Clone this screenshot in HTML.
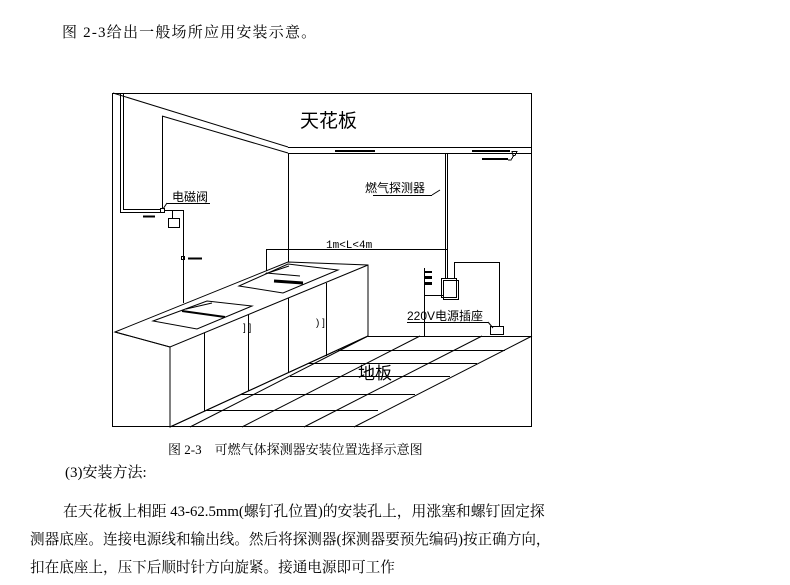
<!DOCTYPE html>
<html><head><meta charset="utf-8"><style>
html,body{margin:0;padding:0;background:#fff;}
body{width:790px;height:585px;position:relative;overflow:hidden;font-family:"Liberation Serif","Noto Serif CJK SC","Noto Sans CJK SC",serif;color:#000;}
.t{position:absolute;white-space:nowrap;}
</style></head><body>
<div class="t" style="left:62px;top:21px;font-size:15px;letter-spacing:1.2px;">图 2-3给出一般场所应用安装示意。</div>
<svg width="790" height="585" style="position:absolute;left:0;top:0" xmlns="http://www.w3.org/2000/svg">
<g stroke="#000" stroke-width="1" fill="none" shape-rendering="crispEdges">
<rect x="112.5" y="93.5" width="419" height="333"/>
<line x1="113" y1="93" x2="288" y2="147" shape-rendering="auto"/>
<line x1="162" y1="116" x2="288" y2="153" shape-rendering="auto"/>
<line x1="288" y1="147.5" x2="532" y2="147.5"/>
<line x1="288" y1="153.5" x2="532" y2="153.5"/>
<line x1="288.5" y1="153" x2="288.5" y2="262"/>
<line x1="162.5" y1="116" x2="162.5" y2="208"/>
<line x1="120.5" y1="94" x2="120.5" y2="212"/>
<line x1="123.5" y1="94" x2="123.5" y2="210"/>
<line x1="120" y1="212.5" x2="162" y2="212.5"/>
<line x1="123" y1="209.5" x2="160" y2="209.5"/>
<rect x="160.5" y="208.5" width="4" height="4"/>
<line x1="143" y1="216.5" x2="155" y2="216.5" stroke-width="2"/>
<line x1="165" y1="210.5" x2="183" y2="210.5"/>
<line x1="172.5" y1="211" x2="172.5" y2="218"/>
<rect x="168.5" y="218.5" width="11" height="9"/>
<line x1="183.5" y1="210" x2="183.5" y2="303"/>
<rect x="181.5" y="256.5" width="3" height="3"/>
<line x1="188" y1="258.5" x2="202" y2="258.5" stroke-width="2"/>
<line x1="167" y1="203.5" x2="210" y2="203.5"/>
<line x1="167" y1="203" x2="163" y2="209" shape-rendering="auto"/>
<line x1="335" y1="151" x2="375" y2="151" stroke-width="2"/>
<line x1="472" y1="151" x2="510" y2="151" stroke-width="2"/>
<line x1="482" y1="159" x2="508" y2="159" stroke-width="2"/>
<path d="M512 151.5h5l-2 4h-2z M514 155 l-3 5 h-3"/>
<line x1="445.5" y1="153" x2="445.5" y2="278"/>
<line x1="447.5" y1="153" x2="447.5" y2="278"/>
<rect x="441.5" y="278.5" width="15" height="19"/>
<rect x="443.5" y="280.5" width="15" height="19"/>
<line x1="454" y1="262.5" x2="499" y2="262.5"/>
<line x1="454.5" y1="262" x2="454.5" y2="278"/>
<line x1="499.5" y1="262" x2="499.5" y2="326"/>
<rect x="490.5" y="326.5" width="13" height="8"/>
<line x1="407" y1="322.5" x2="488" y2="322.5"/>
<line x1="488" y1="322" x2="493" y2="328" shape-rendering="auto"/>
<line x1="373" y1="195.5" x2="432" y2="195.5"/>
<line x1="432" y1="195" x2="440" y2="190" shape-rendering="auto"/>
<line x1="424.5" y1="268" x2="424.5" y2="337"/>
<line x1="425" y1="272" x2="432" y2="272" stroke-width="2"/>
<line x1="425" y1="277.5" x2="432" y2="277.5" stroke-width="3"/>
<line x1="425" y1="283.5" x2="432" y2="283.5" stroke-width="3"/>
<line x1="425" y1="295.5" x2="443" y2="295.5"/>
<line x1="266" y1="249.5" x2="447" y2="249.5"/>
<line x1="266.5" y1="249" x2="266.5" y2="284"/>
<line x1="368" y1="336.5" x2="532" y2="336.5"/>
<g shape-rendering="auto">
<line x1="532" y1="336" x2="354" y2="427"/>
<line x1="482" y1="336" x2="304" y2="427"/>
<line x1="420" y1="336" x2="242" y2="427"/>
<line x1="368" y1="336" x2="190" y2="427"/>
</g>
<line x1="338" y1="350.5" x2="505" y2="350.5"/>
<line x1="300" y1="363.5" x2="477" y2="363.5"/>
<line x1="290" y1="376.5" x2="450" y2="376.5"/>
<line x1="240" y1="394.5" x2="415" y2="394.5"/>
<line x1="205" y1="410.5" x2="378" y2="410.5"/>
<g shape-rendering="auto">
<polygon points="115,332 288,262 368,265 368,336 170,427 170,347" fill="#fff"/>
<polyline points="115,332 170,347 368,265"/>
<line x1="170" y1="427" x2="368" y2="336"/>
<line x1="204.5" y1="333" x2="204.5" y2="411"/>
<line x1="248.5" y1="315" x2="248.5" y2="391"/>
<line x1="288.5" y1="298" x2="288.5" y2="372"/>
<line x1="326.5" y1="283" x2="326.5" y2="356"/>
<polygon points="153,321 207,301 252,306 197,329"/>
<line x1="182" y1="311" x2="225" y2="317" stroke-width="2"/>
<line x1="186" y1="309" x2="212" y2="303"/>
<polygon points="239,286 288,264 338,270 283,293"/>
<line x1="265" y1="274" x2="289" y2="266"/>
<line x1="266" y1="273" x2="300" y2="276"/>
<line x1="274" y1="281" x2="303" y2="283" stroke-width="3"/>
</g>
</g>
<g font-family="Liberation Sans,'Noto Sans CJK SC',sans-serif" fill="#000">
<text x="300" y="127" font-size="19">天花板</text>
<text x="172" y="201" font-size="12">电磁阀</text>
<text x="365" y="192" font-size="12">燃气探测器</text>
<text x="326" y="248" font-size="11" font-family="Liberation Mono,monospace">1m&lt;L&lt;4m</text>
<text x="407" y="320" font-size="12">220V电源插座</text>
<text x="358" y="379" font-size="17">地板</text>
<text x="243" y="331" font-size="10">] ]</text>
<text x="316" y="326" font-size="10">) ]</text>
</g>
</svg>
<div class="t" style="left:168px;top:439px;font-size:13px;">图 2-3　可燃气体探测器安装位置选择示意图</div>
<div class="t" style="left:65px;top:461px;font-size:15px;">(3)安装方法:</div>
<div class="t" style="left:63px;top:500px;font-size:14.8px;">在天花板上相距 43-62.5mm(螺钉孔位置)的安装孔上，用涨塞和螺钉固定探</div>
<div class="t" style="left:30px;top:528px;font-size:14.6px;">测器底座。连接电源线和输出线。然后将探测器(探测器要预先编码)按正确方向，</div>
<div class="t" style="left:30px;top:556px;font-size:14.6px;">扣在底座上，压下后顺时针方向旋紧。接通电源即可工作</div>
</body></html>
